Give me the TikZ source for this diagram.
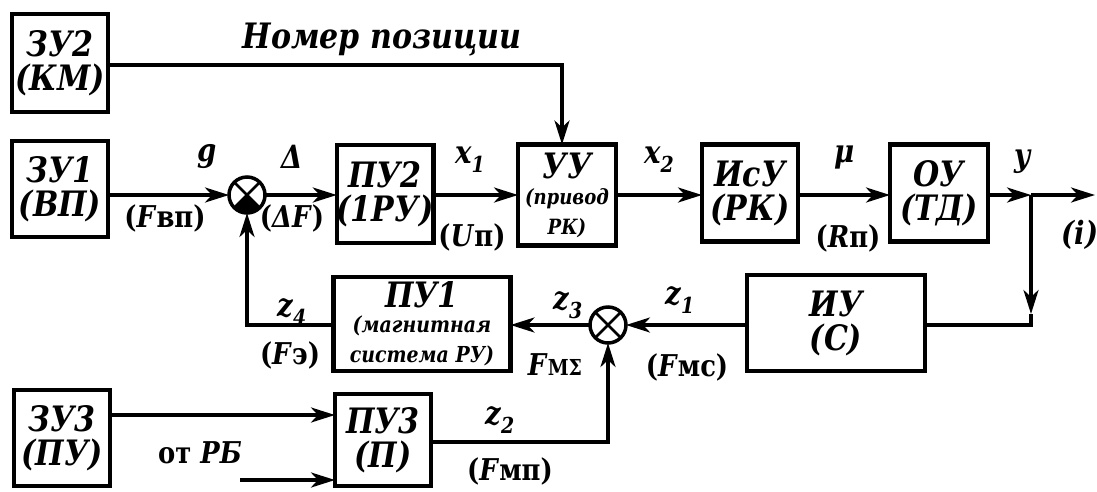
\documentclass[tikz,border=0pt]{standalone}
\usepackage{fontspec}
\setmainfont{DejaVu Serif}[FakeStretch=0.86]
\usetikzlibrary{arrows.meta}
\tikzset{
  blk/.style={draw, line width=4.5pt, inner sep=0pt, outer sep=0pt, align=center,
    font=\bfseries\itshape\fontsize{35}{34}\selectfont},
  sumj/.style={draw, circle, line width=3.5pt, minimum size=36pt, inner sep=0pt, outer sep=0pt},
  conn/.style={line width=3.5pt},
  arr/.style={conn, -{Stealth[length=24pt,width=15pt,inset=7pt]}},
  lbl/.style={font=\bfseries\itshape\fontsize{32}{32}\selectfont, inner sep=0pt},
  plbl/.style={font=\bfseries\fontsize{30}{30}\selectfont, inner sep=0pt},
}
\newcommand\sbs[1]{\raisebox{-9pt}{\fontsize{22}{22}\selectfont #1}}
\newcommand\smf{\fontsize{21}{18}\selectfont}
\newcommand\smg{\fontsize{22}{20}\selectfont}
\begin{document}
\begin{tikzpicture}[x=1pt,y=-1pt]
\useasboundingbox (0,0) rectangle (1097,491);
% blocks
\node[blk, minimum width=96pt, minimum height=98pt] (ZU2) at (60,63) {ЗУ2\\(КМ)};
\node[blk, minimum width=96pt, minimum height=96pt] (ZU1) at (60,189) {ЗУ1\\(ВП)};
\node[blk, minimum width=96pt, minimum height=98pt] (PU2) at (385,194) {ПУ2\\(1РУ)};
\node[blk, minimum width=98pt, minimum height=101pt] (UU) at (567,195) {УУ\\[-8pt]{\smf (привод}\\[-4pt]{\smf РК)}};
\node[blk, minimum width=96pt, minimum height=97pt] (IsU) at (750,193) {ИсУ\\(РК)};
\node[blk, minimum width=98pt, minimum height=97pt] (OU) at (939,193) {ОУ\\(ТД)};
\node[blk, minimum width=178pt, minimum height=96pt] (IU) at (836,323) {ИУ\\(С)};
\node[blk, minimum width=177pt, minimum height=94pt] (PU1) at (422,324) {ПУ1\\[-9pt]{\smg (магнитная}\\[-4pt]{\smg система РУ)}};
\node[blk, minimum width=96pt, minimum height=96pt] (ZU3) at (62,438) {ЗУ3\\(ПУ)};
\node[blk, minimum width=96pt, minimum height=92pt] (PU3) at (383,440) {ПУ3\\(П)};
% summing junctions
\node[sumj] (S1) at (247,195) {};
\fill (S1.center) -- (S1.-45) -- (S1.-60) -- (S1.-75) -- (S1.-90) -- (S1.-105) -- (S1.-120) -- (S1.-135) -- cycle;
\draw[line width=2.5pt] (S1.45) -- (S1.-135) (S1.135) -- (S1.-45);
\node[sumj] (S2) at (608,325) {};
\draw[line width=2.5pt] (S2.45) -- (S2.-135) (S2.135) -- (S2.-45);
% coordinates
\coordinate (m) at (0,195);
\coordinate (t) at (562,65);
\coordinate (br) at (1031,195);
\coordinate (out) at (1095,195);
\coordinate (c1) at (1031,325);
\coordinate (c1a) at (1031,314);
\coordinate (r3) at (0,415);
\coordinate (rb) at (240,480);
\coordinate (r2) at (0,442);
% connectors
\draw[arr] (ZU2.east |- t) -- (t) -- (t |- UU.north);
\draw[arr] (ZU1.east |- m) -- (S1.west);
\draw[arr] (S1.east) -- (PU2.west |- m);
\draw[arr] (PU2.east |- m) -- (UU.west |- m);
\draw[arr] (UU.east |- m) -- (IsU.west |- m);
\draw[arr] (IsU.east |- m) -- (OU.west |- m);
\draw[arr] (OU.east |- m) -- (br);
\draw[arr] (br) -- (out);
\draw[arr] (br) -- (c1a);
\draw[conn] (c1a) -- (c1) -- (IU.east |- c1);
\draw[arr] (IU.west |- S2) -- (S2.east);
\draw[arr] (S2.west) -- (PU1.east |- S2);
\draw[arr] (PU1.west |- S2) -- (S1 |- S2) -- (S1.south);
\draw[arr] (ZU3.east |- r3) -- (PU3.west |- r3);
\draw[arr] (rb) -- (PU3.west |- rb);
\draw[arr] (PU3.east |- r2) -- (S2 |- r2) -- (S2.south);
% labels
\node[lbl, font=\bfseries\itshape\fontsize{35}{35}\selectfont] (tNP) at (382,40) {Номер позиции};
\node[lbl] (tg) at (207,157) {g};
\node[lbl] (tD) at (292,157) {Δ};
\node[plbl] (tFvp) at (165,218) {(\textit{F}вп)};
\node[plbl] (tDF) at (292,218) {(\textit{ΔF})};
\node[lbl] (tx1) at (470,160) {x\sbs{1}};
\node[plbl] (tUp) at (472,237) {(\textit{U}п)};
\node[lbl] (tx2) at (659,160) {x\sbs{2}};
\node[lbl] (tmu) at (845,158) {μ};
\node[plbl] (tRp) at (848,238) {(\textit{R}п)};
\node[lbl] (ty) at (1022,162) {y};
\node[lbl] (ti) at (1080,235) {(i)};
\node[lbl] (tz4) at (292,312) {z\sbs{4}};
\node[plbl] (tFe) at (290,355) {(\textit{F}э)};
\node[lbl] (tz3) at (568,305) {z\sbs{3}};
\node[lbl] (tz1) at (680,300) {z\sbs{1}};
\node[plbl] (tFms) at (555,365) {\textit{F}{\fontsize{22}{22}\selectfont МΣ}};
\node[plbl] (tFmc) at (687,367) {(\textit{F}мс)};
\node[lbl] (tz2) at (500,420) {z\sbs{2}};
\node[plbl] (tFmp) at (510,471) {(\textit{F}мп)};
\node[plbl] (tRB) at (200,453) {от \textit{РБ}};
\end{tikzpicture}
\end{document}
